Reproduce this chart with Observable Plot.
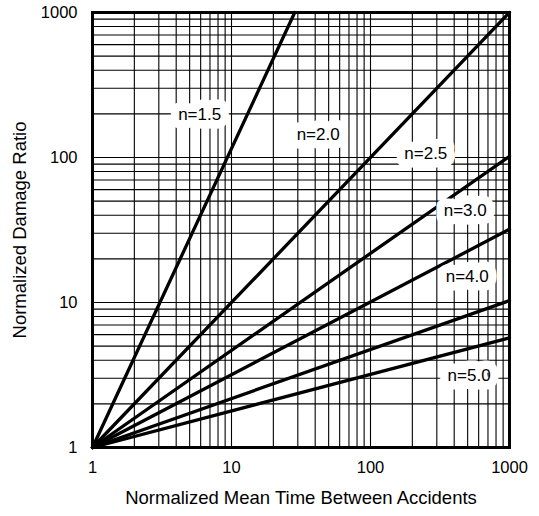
<!DOCTYPE html>
<html>
<head>
<meta charset="utf-8">
<script src="https://cdn.jsdelivr.net/npm/d3@7"></script>
<script src="https://cdn.jsdelivr.net/npm/@observablehq/plot@0.6"></script>
<style>
  body { margin: 0; background: #fff; }
  #chart svg { display: block; }
</style>
</head>
<body>
<div id="chart"></div>
<script>
const nLabels = ["n=1.5", "n=2.0", "n=2.5", "n=3.0", "n=4.0", "n=5.0"];
const startX = [1, 1, 1, 1, 1, 1];
const startY = [1, 1, 1, 1, 1, 1];
const endX = [28.5, 1000, 1000, 1000, 1000, 1000];
const endY = [1000, 1000, 102, 32, 10.3, 5.7];

// Label anchor points (data coordinates)
const labelX = [5.9, 42, 250, 480, 496, 512];
const labelY = [198, 144, 107, 43, 15.1, 3.14];

// Tick labels
const xTicks = [1, 10, 100, 1000];
const yTicks = [1, 10, 100, 1000];
const xTitle = "Normalized Mean Time Between Accidents";
const yTitle = "Normalized Damage Ratio";

// Log graph-paper grid (1..9 in each decade)
const gridValues = [1, 10, 100].flatMap(d => d3.range(1, 10).map(k => k * d)).concat([1000]);

const lineRows = nLabels.flatMap((n, i) => [
  {n, x: startX[i], y: startY[i]},
  {n, x: endX[i], y: endY[i]}
]);
const labelRows = nLabels.map((n, i) => ({n, x: labelX[i], y: labelY[i]}));

const font = "'Liberation Sans', Arial, Helvetica, sans-serif";

const chart = Plot.plot({
  width: 539,
  height: 516,
  marginLeft: 92,
  marginRight: 30,
  marginTop: 12,
  marginBottom: 69,
  style: {fontFamily: font, background: "#fff", color: "#000"},
  x: {type: "log", domain: [1, 1000], axis: null},
  y: {type: "log", domain: [1, 1000], axis: null},
  marks: [
    Plot.ruleX(gridValues, {x: d => d, stroke: "#000", strokeWidth: 1.1}),
    Plot.ruleY(gridValues, {y: d => d, stroke: "#000", strokeWidth: 1.1}),
    Plot.line(lineRows, {x: "x", y: "y", z: "n", stroke: "#000", strokeWidth: 3.3}),
    Plot.text(labelRows, {
      x: "x", y: "y", text: "n",
      fill: "#000", stroke: "#fff", strokeWidth: 17, strokeLinejoin: "round",
      fontSize: 17
    }),
    Plot.frame({stroke: "#000", strokeWidth: 3}),
    Plot.text(xTicks, {x: d => d, text: d => String(d), frameAnchor: "bottom", dy: 25.5, fontSize: 16.5}),
    Plot.text(yTicks, {y: d => d, text: d => String(d), frameAnchor: "left", textAnchor: "end", dx: -15, fontSize: 16.5}),
    Plot.text([xTitle], {text: d => d, frameAnchor: "bottom", dy: 56.5, fontSize: 18.5}),
    Plot.text([yTitle], {text: d => d, frameAnchor: "left", textAnchor: "middle", rotate: -90, dx: -72, fontSize: 18.5})
  ]
});

document.getElementById("chart").appendChild(chart);
</script>
</body>
</html>
